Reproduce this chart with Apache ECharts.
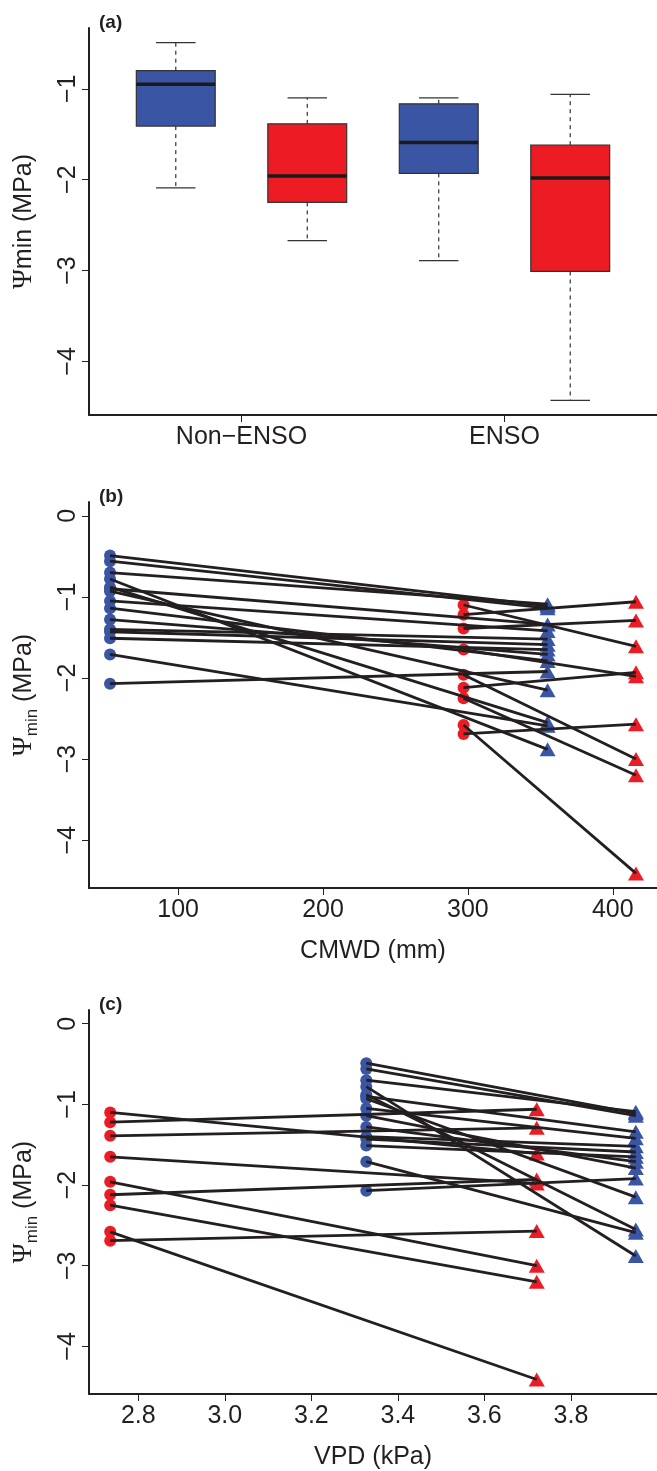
<!DOCTYPE html>
<html>
<head>
<meta charset="utf-8">
<script src="https://cdn.jsdelivr.net/npm/echarts@6/dist/echarts.min.js"></script>
<style>
  html, body { margin: 0; padding: 0; background: #fff; }
  #main { width: 657px; height: 1471px; }
</style>
</head>
<body>
<div id="main"></div>
<script>
// (a) box statistics, boxes at positions 1..4
var boxPos = [1, 2, 3, 4];
var boxLow = [-2.09, -2.67, -2.89, -4.43];
var boxQ1 = [-1.41, -2.25, -1.93, -3.01];
var boxMed = [-0.95, -1.96, -1.59, -1.98];
var boxQ3 = [-0.80, -1.385, -1.165, -1.62];
var boxHigh = [-0.49, -1.10, -1.10, -1.06];
var boxColors = ['#3a55a4', '#ed1c24', '#3a55a4', '#ed1c24'];
var groupTicks = [1.5, 3.5];
var groupNames = ['Non\u2212ENSO', 'ENSO'];

// site climate (x positions of the four groups)
var cmwdBlueNon = 53, cmwdRedNon = 297, cmwdBlueEnso = 355, cmwdRedEnso = 416;
var vpdRedNon = 2.735, vpdBlueNon = 3.327, vpdRedEnso = 3.721, vpdBlueEnso = 3.95;

// paired psi-min values (MPa): non-ENSO -> ENSO
var blueNon  = [-0.49, -0.56, -0.70, -0.78, -0.88, -0.90, -0.93, -1.05, -1.14, -1.28, -1.40, -1.43, -1.51, -1.71, -2.07];
var blueEnso = [-1.11, -1.14, -1.09, -2.88, -2.55, -1.34, -2.15, -1.42, -1.79, -1.71, -1.52, -1.59, -1.65, -2.59, -1.92];
var redNon   = [-1.10, -1.22, -1.39, -1.65, -1.96, -2.12, -2.25, -2.58, -2.69];
var redEnso  = [-1.61, -1.06, -1.29, -1.98, -3.00, -1.93, -3.20, -4.41, -2.57];

var psiTicksA = [-4, -3, -2, -1];
var psiTicks = [-4, -3, -2, -1, 0];
var cmwdTicks = [100, 200, 300, 400];
var vpdTicks = [2.8, 3.0, 3.2, 3.4, 3.6, 3.8];

var BLUE = '#3a55a4', RED = '#ed1c24', INK = '#231f20';
var FONT = "'Liberation Sans', Arial, sans-serif";

function minus(v) { return v < 0 ? '\u2212' + Math.abs(v) : String(v); }

var myChart = echarts.init(document.getElementById('main'));

function xAxisBase(grid, min, max, ticks, fmt, name) {
  return {
    type: 'value', gridIndex: grid, min: min, max: max,
    name: name, nameLocation: 'middle', nameGap: 51,
    nameTextStyle: { fontSize: 25, color: INK, fontFamily: FONT },
    axisLine: { show: true, onZero: false, lineStyle: { color: INK, width: 2 } },
    axisTick: { show: true, inside: false, length: 7, customValues: ticks, lineStyle: { color: INK, width: 1 } },
    axisLabel: { customValues: ticks, margin: 10, fontSize: 25, color: INK, fontFamily: FONT, formatter: fmt },
    splitLine: { show: false }
  };
}

function yAxisBase(grid, min, max, ticks, nameRich) {
  return {
    type: 'value', gridIndex: grid, min: min, max: max,
    name: nameRich, nameLocation: 'middle', nameGap: 48, nameRotate: 90,
    nameTextStyle: {
      color: INK, fontFamily: FONT, fontSize: 25,
      rich: {
        p: { fontFamily: "'Liberation Serif', 'DejaVu Serif', serif", fontSize: 27, lineHeight: 34, color: INK },
        s: { fontFamily: FONT, fontSize: 17, lineHeight: 18, verticalAlign: 'bottom', color: INK },
        t: { fontFamily: FONT, fontSize: 25, lineHeight: 34, color: INK }
      }
    },
    axisLine: { show: true, onZero: false, lineStyle: { color: INK, width: 2 } },
    axisTick: { show: true, inside: false, length: 7, customValues: ticks, lineStyle: { color: INK, width: 1 } },
    axisLabel: { customValues: ticks, rotate: 90, margin: 8, fontSize: 25, color: INK, fontFamily: FONT, formatter: minus },
    splitLine: { show: false }
  };
}

var boxData = boxPos.map(function (p, i) {
  return [p, boxLow[i], boxQ1[i], boxMed[i], boxQ3[i], boxHigh[i]];
});

function pts(x, arr) { return arr.map(function (v) { return [x, v]; }); }
function segs(x1, a, x2, b) {
  return a.map(function (v, i) { return { coords: [[x1, v], [x2, b[i]]] }; });
}

function pairSeries(grid, xBN, xRN, xBE, xRE) {
  var mk = function (name, x, arr, sym, size, color) {
    return {
      name: name, type: 'scatter', xAxisIndex: grid, yAxisIndex: grid,
      data: pts(x, arr), symbol: sym, symbolSize: size,
      itemStyle: { color: color, opacity: 1 }, z: 2, silent: true
    };
  };
  return [
    mk('blueNon', xBN, blueNon, 'circle', 12, BLUE),
    mk('redNon', xRN, redNon, 'circle', 12, RED),
    mk('blueEnso', xBE, blueEnso, 'triangle', [16, 14], BLUE),
    mk('redEnso', xRE, redEnso, 'triangle', [16, 14], RED),
    {
      type: 'lines', coordinateSystem: 'cartesian2d', xAxisIndex: grid, yAxisIndex: grid,
      data: segs(xBN, blueNon, xBE, blueEnso).concat(segs(xRN, redNon, xRE, redEnso)),
      lineStyle: { color: INK, width: 2.8, opacity: 1 }, z: 3, silent: true
    }
  ];
}

var option = {
  animation: false,
  backgroundColor: '#fff',
  textStyle: { fontFamily: FONT },
  title: [
    { text: '(a)', left: 99, top: 13, padding: 0, textStyle: { fontSize: 19, fontWeight: 'bold', color: INK, fontFamily: FONT } },
    { text: '(b)', left: 99, top: 487, padding: 0, textStyle: { fontSize: 19, fontWeight: 'bold', color: INK, fontFamily: FONT } },
    { text: '(c)', left: 99, top: 995, padding: 0, textStyle: { fontSize: 19, fontWeight: 'bold', color: INK, fontFamily: FONT } }
  ],
  grid: [
    { left: 89, top: 28, width: 568, height: 387 },
    { left: 89, top: 502, width: 568, height: 386 },
    { left: 89, top: 1010, width: 568, height: 387 }
  ],
  xAxis: [
    xAxisBase(0, 0.34, 4.66, groupTicks, function (v) {
      var k = groupTicks.indexOf(v); return k >= 0 ? groupNames[k] : '';
    }, ''),
    xAxisBase(1, 38.5, 430.5, cmwdTicks, function (v) { return String(v); }, 'CMWD (mm)'),
    xAxisBase(2, 2.686, 3.999, vpdTicks, function (v) { return v.toFixed(1); }, 'VPD (kPa)')
  ],
  yAxis: [
    yAxisBase(0, -4.59, -0.33, psiTicksA, '{p|\u03A8}{t|min (MPa)}'),
    yAxisBase(1, -4.59, 0.17, psiTicks, '{p|\u03A8}{s|min}{t| (MPa)}'),
    yAxisBase(2, -4.59, 0.17, psiTicks, '{p|\u03A8}{s|min}{t| (MPa)}')
  ],
  series: [
    {
      type: 'custom', xAxisIndex: 0, yAxisIndex: 0, silent: true,
      encode: { x: 0, y: [1, 2, 3, 4, 5] },
      data: boxData,
      renderItem: function (params, api) {
        var x = api.value(0);
        var lo = api.coord([x, api.value(1)]);
        var q1 = api.coord([x - 0.3, api.value(2)]);
        var md = api.coord([x - 0.3, api.value(3)]);
        var q3 = api.coord([x + 0.3, api.value(4)]);
        var hi = api.coord([x, api.value(5)]);
        var capL = api.coord([x - 0.15, 0])[0], capR = api.coord([x + 0.15, 0])[0];
        var cx = lo[0];
        var thin = { stroke: '#333', lineWidth: 1.2 };
        var dash = { stroke: '#333', lineWidth: 1.2, lineDash: [4, 4] };
        return {
          type: 'group',
          children: [
            { type: 'line', shape: { x1: cx, y1: q3[1], x2: cx, y2: hi[1] }, style: dash },
            { type: 'line', shape: { x1: cx, y1: q1[1], x2: cx, y2: lo[1] }, style: dash },
            { type: 'line', shape: { x1: capL, y1: hi[1], x2: capR, y2: hi[1] }, style: thin },
            { type: 'line', shape: { x1: capL, y1: lo[1], x2: capR, y2: lo[1] }, style: thin },
            { type: 'rect', shape: { x: q1[0], y: q3[1], width: q3[0] - q1[0], height: q1[1] - q3[1] },
              style: { fill: boxColors[params.dataIndex], stroke: '#333', lineWidth: 1.2 } },
            { type: 'line', shape: { x1: q1[0], y1: md[1], x2: q3[0], y2: md[1] },
              style: { stroke: '#1a1a1a', lineWidth: 3.5 } }
          ]
        };
      }
    }
  ].concat(pairSeries(1, cmwdBlueNon, cmwdRedNon, cmwdBlueEnso, cmwdRedEnso))
   .concat(pairSeries(2, vpdBlueNon, vpdRedNon, vpdBlueEnso, vpdRedEnso))
};

myChart.setOption(option);
</script>
</body>
</html>
